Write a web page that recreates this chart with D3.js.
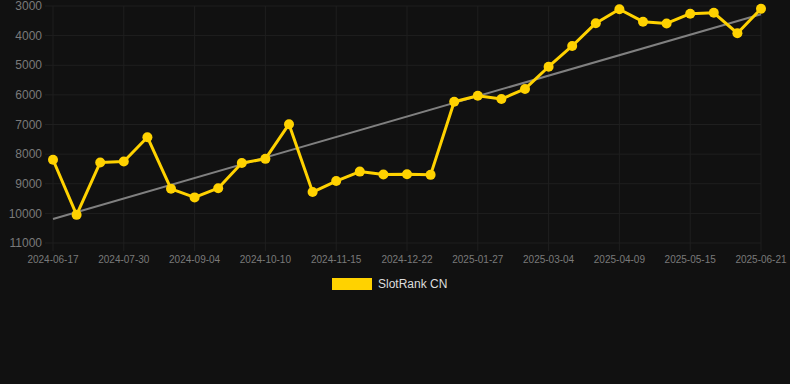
<!DOCTYPE html>
<html>
<head>
<meta charset="utf-8">
<script src="https://cdn.jsdelivr.net/npm/d3@7"></script>
<style>
  html, body { margin: 0; padding: 0; background: #111111; }
  svg { display: block; }
</style>
</head>
<body>
<svg id="chart"></svg>
<script>
// data
const dates = [
  "2024-06-17", "2024-06-30", "2024-07-14", "2024-07-30", "2024-08-11", "2024-08-23",
  "2024-09-04", "2024-09-16", "2024-09-28", "2024-10-10", "2024-10-22", "2024-11-03",
  "2024-11-15", "2024-11-27", "2024-12-10", "2024-12-22", "2025-01-03", "2025-01-15",
  "2025-01-27", "2025-02-08", "2025-02-20", "2025-03-04", "2025-03-16", "2025-03-28",
  "2025-04-09", "2025-04-21", "2025-05-03", "2025-05-15", "2025-05-27", "2025-06-09",
  "2025-06-21"
];
const ranks = [
  8190, 10050, 8280, 8250, 7430, 9170,
  9460, 9150, 8300, 8160, 6990, 9280,
  8910, 8590, 8690, 8680, 8700, 6230,
  6030, 6140, 5800, 5050, 4350, 3580,
  3110, 3530, 3590, 3260, 3230, 3920,
  3090
];
const yTicks = [3000, 4000, 5000, 6000, 7000, 8000, 9000, 10000, 11000];
const seriesName = "SlotRank CN";

const W = 790, H = 384;
const font = "'Liberation Sans', Arial, Helvetica, sans-serif";
const gold = "#FFD200";
const gridColor = "#1f1f1f";

const svg = d3.select("#chart")
  .attr("width", W)
  .attr("height", H)
  .style("background", "#111111");

const x = d3.scalePoint()
  .domain(dates)
  .range([53, 761]);

const y = d3.scaleLinear()
  .domain([3000, 11000])
  .range([6, 243]);

// grid lines
const showLabel = (d, i) => i % 3 === 0;
svg.append("g")
  .selectAll("line")
  .data(dates.filter(showLabel))
  .enter().append("line")
  .attr("x1", d => x(d)).attr("x2", d => x(d))
  .attr("y1", y(3000)).attr("y2", y(11000) + 8)
  .attr("stroke", gridColor)
  .attr("stroke-width", 1);

svg.append("g")
  .selectAll("line")
  .data(yTicks)
  .enter().append("line")
  .attr("x1", 45).attr("x2", 761)
  .attr("y1", d => y(d)).attr("y2", d => y(d))
  .attr("stroke", gridColor)
  .attr("stroke-width", 1);

// y tick labels
svg.append("g")
  .selectAll("text")
  .data(yTicks)
  .enter().append("text")
  .attr("x", 42)
  .attr("y", d => y(d))
  .attr("dy", "0.35em")
  .attr("text-anchor", "end")
  .style("font-family", font)
  .style("font-size", "12px")
  .style("fill", "#7a7a7a")
  .text(d => d);

// x tick labels
svg.append("g")
  .selectAll("text")
  .data(dates.filter(showLabel))
  .enter().append("text")
  .attr("x", d => x(d))
  .attr("y", 259)
  .attr("dy", "0.35em")
  .attr("text-anchor", "middle")
  .style("font-family", font)
  .style("font-size", "10px")
  .style("fill", "#7a7a7a")
  .text(d => d);

// least squares trend line, fitted against the day offsets
const parse = d3.timeParse("%Y-%m-%d");
const days = dates.map(d => d3.timeDay.count(parse(dates[0]), parse(d)));
const n = ranks.length;
const mx = d3.mean(days);
const my = d3.mean(ranks);
const slope = d3.sum(ranks, (d, i) => (days[i] - mx) * (d - my)) / d3.sum(days, t => (t - mx) * (t - mx));
const icpt = my - slope * mx;
svg.append("line")
  .attr("x1", x(dates[0])).attr("y1", y(icpt))
  .attr("x2", x(dates[n - 1])).attr("y2", y(icpt + slope * days[n - 1]))
  .attr("stroke", "#808080")
  .attr("stroke-width", 2);

// series
const line = d3.line()
  .x((d, i) => x(dates[i]))
  .y(d => y(d));

svg.append("path")
  .datum(ranks)
  .attr("d", line)
  .attr("fill", "none")
  .attr("stroke", gold)
  .attr("stroke-width", 3)
  .attr("stroke-linejoin", "round");

svg.append("g")
  .selectAll("circle")
  .data(ranks)
  .enter().append("circle")
  .attr("cx", (d, i) => x(dates[i]))
  .attr("cy", d => y(d))
  .attr("r", 5)
  .attr("fill", gold);

// legend
const legend = svg.append("g");
legend.append("rect")
  .attr("x", 332).attr("y", 278)
  .attr("width", 40).attr("height", 12)
  .attr("fill", gold);
legend.append("text")
  .attr("x", 378).attr("y", 284)
  .attr("dy", "0.35em")
  .style("font-family", font)
  .style("font-size", "12px")
  .style("fill", "#dddddd")
  .text(seriesName);
</script>
</body>
</html>
